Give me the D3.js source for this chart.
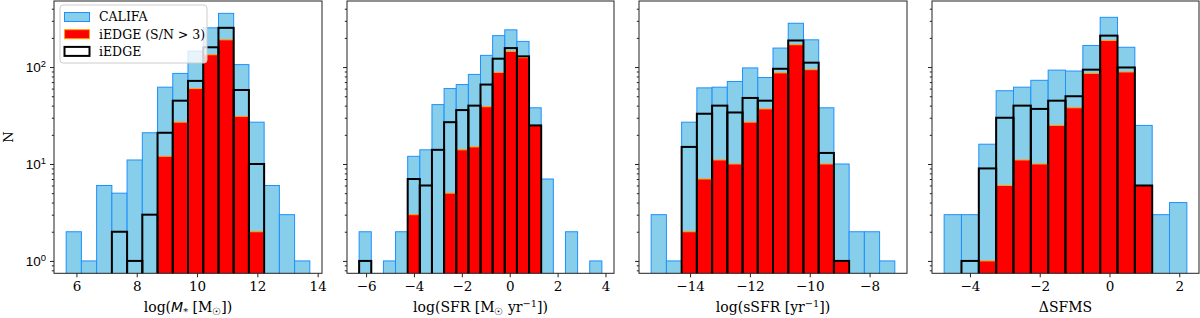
<!DOCTYPE html>
<html>
<head>
<meta charset="utf-8">
<script src="https://cdn.jsdelivr.net/npm/d3@7"></script>
<style>
  body { margin: 0; background: #fff; }
  svg { display: block; font-family: "DejaVu Serif", serif; }
</style>
</head>
<body>
<svg id="chart" width="1200" height="318"></svg>
<script>
// histogram bins (start, width) and counts
const massBins = { start: 5.66, width: 0.505 };
const massCalifa = [2, 1, 6, 5, 11, 21, 62, 86, 146, 254, 358, 106, 27, 6, 3, 1];
const massIedge = [0, 0, 0, 2, 1, 3, 21, 45, 72, 160, 254, 58, 10, 0, 0, 0];
const massIedgeSN = [0, 0, 0, 0, 0, 0, 12, 27, 60, 134, 191, 31, 2, 0, 0, 0];

const sfrBins = { start: -6.29, width: 0.507 };
const sfrCalifa = [2, 0, 1, 2, 12, 14, 41, 60, 66, 84, 132, 211, 242, 184, 38, 7, 0, 2, 0, 1];
const sfrIedge = [1, 0, 0, 0, 7, 6, 14, 27, 36, 40, 66, 122, 157, 129, 25, 0, 0, 0, 0, 0];
const sfrIedgeSN = [0, 0, 0, 0, 3, 0, 0, 5, 14, 15, 39, 88, 145, 125, 25, 0, 0, 0, 0, 0];

const ssfrBins = { start: -15.3, width: 0.509 };
const ssfrCalifa = [3, 1, 27, 61, 62, 71, 98, 78, 157, 283, 191, 38, 10, 2, 2, 1];
const ssfrIedge = [0, 0, 15, 33, 40, 34, 48, 45, 96, 188, 111, 13, 1, 0, 0, 0];
const ssfrIedgeSN = [0, 0, 2, 7, 11, 10, 27, 37, 87, 170, 94, 10, 1, 0, 0, 0];

const dsfmsBins = { start: -4.74, width: 0.497 };
const dsfmsCalifa = [3, 3, 16, 57, 62, 73, 93, 91, 167, 326, 160, 25, 3, 4];
const dsfmsIedge = [0, 1, 9, 30, 40, 37, 45, 50, 94, 211, 99, 6, 0, 0];
const dsfmsIedgeSN = [0, 0, 1, 6, 11, 10, 25, 38, 86, 188, 89, 6, 0, 0];

const massTicks = [6, 8, 10, 12, 14];
const sfrTicks = [-6, -4, -2, 0, 2, 4];
const ssfrTicks = [-14, -12, -10, -8];
const dsfmsTicks = [-4, -2, 0, 2];

const yMajor = [1, 10, 100];
const legendLabels = ["CALIFA", "iEDGE (S/N > 3)", "iEDGE"];

const panels = [
    { bins: massBins, califa: massCalifa, iedge: massIedge, sn: massIedgeSN, ticks: massTicks, x0: 54, x1: 322, label: "mass" },
    { bins: sfrBins, califa: sfrCalifa, iedge: sfrIedge, sn: sfrIedgeSN, ticks: sfrTicks, x0: 347, x1: 614, label: "sfr" },
    { bins: ssfrBins, califa: ssfrCalifa, iedge: ssfrIedge, sn: ssfrIedgeSN, ticks: ssfrTicks, x0: 639, x1: 907, label: "ssfr" },
    { bins: dsfmsBins, califa: dsfmsCalifa, iedge: dsfmsIedge, sn: dsfmsIedgeSN, ticks: dsfmsTicks, x0: 932, x1: 1199, label: "dsfms" }
];

const plotTop = 1, plotBottom = 273.3;
const tickFont = 13.5, labelFont = 14, legendFont = 12.5;

// shared log y scale, matplotlib-like 5% margins in log space
const maxCount = d3.max(panels, p => d3.max(p.califa));
const lo = 0, hi = Math.log10(maxCount), pad = (hi - lo) * 0.05;
const y = d3.scaleLog().domain([10 ** (lo - pad), 10 ** (hi + pad)]).range([plotBottom, plotTop]);

const minor = [];
for (const dec of [0.1, 1, 10, 100]) {
    for (let k = 2; k <= 9; k++) {
        const v = k * dec;
        if (v > y.domain()[0] && v < y.domain()[1]) minor.push(v);
    }
}

const svg = d3.select("#chart");
const fmt = d => (d < 0 ? "\u2212" : "") + Math.abs(d);

panels.forEach((p, pi) => {
    const n = p.califa.length;
    const edges = d3.range(n + 1).map(i => p.bins.start + i * p.bins.width);
    const span = edges[n] - edges[0];
    const x = d3.scaleLinear()
        .domain([edges[0] - span * 0.05, edges[n] + span * 0.05])
        .range([p.x0, p.x1]);

    const clipId = "clip" + pi;
    svg.append("clipPath").attr("id", clipId)
        .append("rect").attr("x", p.x0).attr("y", plotTop).attr("width", p.x1 - p.x0).attr("height", plotBottom - plotTop);

    const g = svg.append("g").attr("clip-path", `url(#${clipId})`);

    function bars(counts, cls) {
        const data = counts.map((c, i) => ({ c, i })).filter(d => d.c > 0);
        return g.selectAll("rect." + cls)
            .data(data)
            .join("rect")
            .attr("class", cls)
            .attr("x", d => x(edges[d.i]))
            .attr("width", d => x(edges[d.i + 1]) - x(edges[d.i]))
            .attr("y", d => y(d.c))
            .attr("height", d => plotBottom + 10 - y(d.c));
    }

    bars(p.califa, "califa").attr("fill", "#87CEEB").attr("stroke", "#1E90FF").attr("stroke-width", 1);
    bars(p.sn, "sn").attr("fill", "#FF0000").attr("stroke", "#FFA500").attr("stroke-width", 1);
    bars(p.iedge, "iedge").attr("fill", "none").attr("stroke", "#000").attr("stroke-width", 2);

    // x axis
    const xa = svg.append("g")
        .attr("transform", `translate(0,${plotBottom})`)
        .call(d3.axisBottom(x).tickValues(p.ticks).tickFormat(fmt).tickSize(4).tickPadding(4));
    xa.select(".domain").remove();
    xa.selectAll("line").attr("stroke", "#222");
    xa.selectAll("text").attr("font-size", tickFont).attr("font-family", "DejaVu Serif").attr("fill", "#000");

    // y axis: major + minor ticks
    const ya = svg.append("g")
        .attr("transform", `translate(${p.x0},0)`)
        .call(d3.axisLeft(y).tickValues(yMajor).tickFormat("").tickSize(4));
    ya.select(".domain").remove();
    ya.selectAll("line").attr("stroke", "#222");
    const ym = svg.append("g")
        .attr("transform", `translate(${p.x0},0)`)
        .call(d3.axisLeft(y).tickValues(minor).tickFormat("").tickSize(2.2));
    ym.select(".domain").remove();
    ym.selectAll("line").attr("stroke", "#222");

    if (pi === 0) {
        ya.selectAll(".tick").each(function (d) {
            const t = d3.select(this).append("text")
                .attr("x", -8).attr("dy", "0.32em")
                .attr("text-anchor", "end")
                .attr("font-size", tickFont).attr("fill", "#000");
            t.append("tspan").text("10");
            t.append("tspan").attr("font-size", tickFont * 0.7).attr("dy", "-0.55em").text(Math.round(Math.log10(d)));
        });
    }

    // frame
    svg.append("rect")
        .attr("x", p.x0).attr("y", plotTop)
        .attr("width", p.x1 - p.x0).attr("height", plotBottom - plotTop)
        .attr("fill", "none").attr("stroke", "#222").attr("stroke-width", 1);

    // x label
    const lab = svg.append("text")
        .attr("x", (p.x0 + p.x1) / 2).attr("y", 312)
        .attr("text-anchor", "middle")
        .attr("font-size", labelFont).attr("fill", "#000");
    const sub = (t, s) => t.append("tspan").attr("font-size", labelFont * 0.7).attr("dy", 3).text(s);
    const sup = (t, s) => t.append("tspan").attr("font-size", labelFont * 0.7).attr("dy", -5).text(s);
    if (p.label === "mass") {
        lab.append("tspan").text("log(");
        lab.append("tspan").attr("font-family", "DejaVu Sans").attr("font-style", "italic").text("M");
        sub(lab, "*");
        lab.append("tspan").attr("dy", -3).text(" [M");
        sub(lab, "\u2609");
        lab.append("tspan").attr("dy", -3).text("])");
    } else if (p.label === "sfr") {
        lab.append("tspan").text("log(SFR [M");
        sub(lab, "\u2609");
        lab.append("tspan").attr("dy", -3).text(" yr");
        sup(lab, "\u22121");
        lab.append("tspan").attr("dy", 5).text("])");
    } else if (p.label === "ssfr") {
        lab.append("tspan").text("log(sSFR [yr");
        sup(lab, "\u22121");
        lab.append("tspan").attr("dy", 5).text("])");
    } else {
        lab.text("\u0394SFMS");
    }
});

// y label
svg.append("text")
    .attr("transform", `translate(12.5,${(plotTop + plotBottom) / 2}) rotate(-90)`)
    .attr("text-anchor", "middle")
    .attr("font-size", 13).attr("fill", "#000")
    .text("N");

// legend
const lg = svg.append("g");
lg.append("rect")
    .attr("x", 60).attr("y", 5).attr("width", 147).attr("height", 58).attr("rx", 3)
    .attr("fill", "#fff").attr("fill-opacity", 0.8)
    .attr("stroke", "#ccc").attr("stroke-width", 1);
const swatch = [
    { fill: "#87CEEB", stroke: "#1E90FF", sw: 1 },
    { fill: "#FF0000", stroke: "#FFA500", sw: 1 },
    { fill: "#fff", stroke: "#000", sw: 2 }
];
legendLabels.forEach((name, i) => {
    const cy = 17 + i * 17.2;
    lg.append("rect")
        .attr("x", 64.5).attr("y", cy - 4.5).attr("width", 25).attr("height", 9)
        .attr("fill", swatch[i].fill).attr("stroke", swatch[i].stroke).attr("stroke-width", swatch[i].sw);
    lg.append("text")
        .attr("x", 99).attr("y", cy).attr("dy", "0.35em")
        .attr("font-size", legendFont).attr("fill", "#000")
        .text(name);
});
</script>
</body>
</html>
